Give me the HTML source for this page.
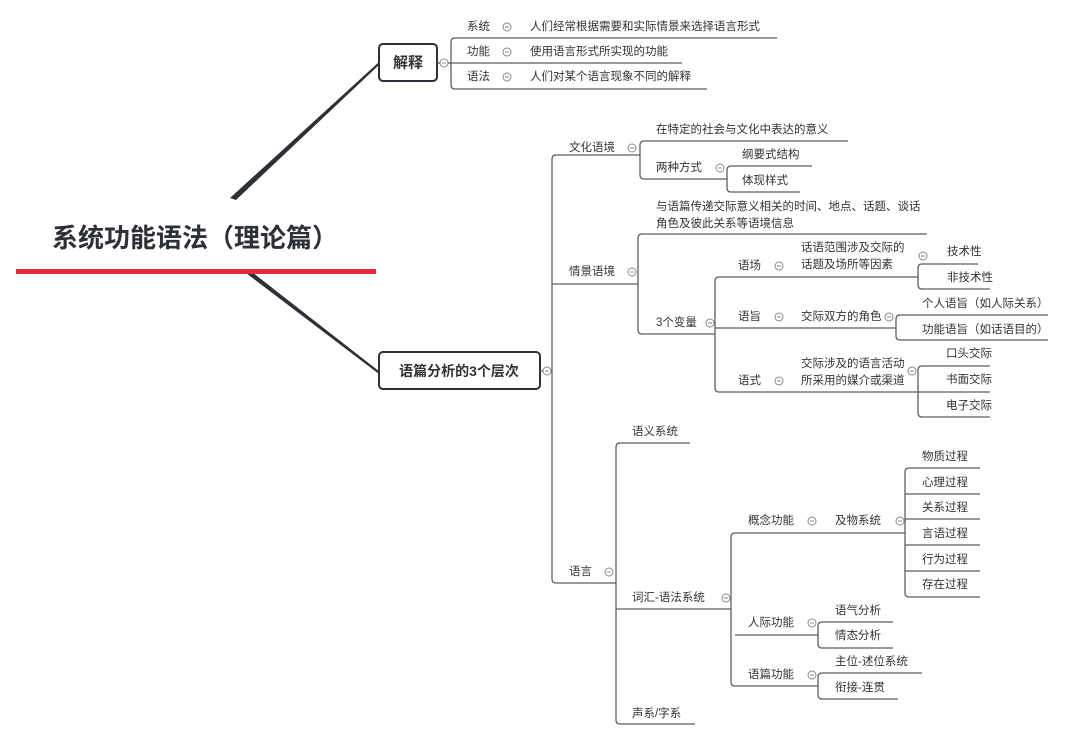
<!DOCTYPE html>
<html><head><meta charset="utf-8"><style>
html,body{margin:0;padding:0;background:#fff;}
svg{display:block;}
text{font-family:"Liberation Sans","Noto Sans CJK SC",sans-serif;font-size:11.5px;fill:#333;dominant-baseline:central;}
.l{stroke:#5a5d66;stroke-width:1.3;fill:none;}
.c circle{fill:#fff;stroke:#888;stroke-width:1;}
.c line{stroke:#888;stroke-width:1;}
</style></head><body>
<svg width="1080" height="739" viewBox="0 0 1080 739" xmlns="http://www.w3.org/2000/svg">
<defs>
<g id="cc" class="c"><circle cx="0" cy="0" r="4"/><line x1="-2" y1="0" x2="2" y2="0"/></g>
</defs>
<polygon points="230,198 236,200 380,64 379,62" fill="#2e3038"/>
<polygon points="246,273 252,272 380,372 379,374" fill="#2e3038"/>
<text x="52" y="238" style="font-size:26px;font-weight:bold;fill:#2e3038">系统功能语法（理论篇）</text>
<rect x="16" y="269" width="360" height="5" fill="#e8283f"/>

<rect x="379" y="44" width="58" height="37" rx="4" fill="#fff" stroke="#2e3038" stroke-width="2"/>
<text x="408" y="63" text-anchor="middle" style="font-size:15px;font-weight:bold">解释</text>
<line class="l" x1="437" y1="63" x2="451" y2="63"/>
<use href="#cc" x="444" y="63"/>
<path class="l" d="M455,38 Q451,38 451,42 V85 Q451,89 455,89"/>
<line class="l" x1="455" y1="38" x2="777" y2="38"/>
<line class="l" x1="451" y1="63" x2="682" y2="63"/>
<line class="l" x1="455" y1="89" x2="707" y2="89"/>
<text x="467" y="27">系统</text><use href="#cc" x="507" y="27"/><text x="530" y="27">人们经常根据需要和实际情景来选择语言形式</text>
<text x="467" y="52">功能</text><use href="#cc" x="507" y="52"/><text x="530" y="52">使用语言形式所实现的功能</text>
<text x="467" y="77">语法</text><use href="#cc" x="507" y="77"/><text x="530" y="77">人们对某个语言现象不同的解释</text>

<rect x="379" y="352" width="161" height="37" rx="4" fill="#fff" stroke="#2e3038" stroke-width="2"/>
<text x="459" y="371" text-anchor="middle" style="font-size:14px;font-weight:bold">语篇分析的3个层次</text>
<line class="l" x1="540" y1="371" x2="552" y2="371"/>
<use href="#cc" x="547" y="371"/>
<path class="l" d="M556,155 Q552,155 552,159 V579 Q552,583 556,583"/>
<line class="l" x1="556" y1="155" x2="640" y2="155"/>
<line class="l" x1="552" y1="284" x2="638" y2="284"/>
<line class="l" x1="556" y1="583" x2="616" y2="583"/>
<text x="569" y="148">文化语境</text><use href="#cc" x="632" y="148"/>
<text x="569" y="272">情景语境</text><use href="#cc" x="632" y="272"/>
<text x="569" y="572">语言</text><use href="#cc" x="609" y="572"/>

<path class="l" d="M644,141 Q640,141 640,145 V175 Q640,179 644,179"/>
<line class="l" x1="644" y1="141" x2="848" y2="141"/>
<line class="l" x1="644" y1="179" x2="727" y2="179"/>
<text x="656" y="130">在特定的社会与文化中表达的意义</text>
<text x="656" y="168">两种方式</text><use href="#cc" x="720" y="168"/>
<path class="l" d="M731,166 Q727,166 727,170 V188 Q727,192 731,192"/>
<line class="l" x1="731" y1="166" x2="812" y2="166"/>
<line class="l" x1="731" y1="192" x2="800" y2="192"/>
<text x="742" y="155">纲要式结构</text>
<text x="742" y="181">体现样式</text>

<path class="l" d="M642,234 Q638,234 638,238 V330 Q638,334 642,334"/>
<line class="l" x1="642" y1="234" x2="927" y2="234"/>
<line class="l" x1="642" y1="334" x2="715" y2="334"/>
<text x="656" y="207">与语篇传递交际意义相关的时间、地点、话题、谈话</text>
<text x="656" y="224">角色及彼此关系等语境信息</text>
<text x="656" y="323">3个变量</text><use href="#cc" x="710" y="323"/>
<path class="l" d="M719,277 Q715,277 715,281 V388 Q715,392 719,392"/>
<line class="l" x1="719" y1="277" x2="918" y2="277"/>
<line class="l" x1="715" y1="328" x2="896" y2="328"/>
<line class="l" x1="719" y1="392" x2="918" y2="392"/>
<text x="738" y="266">语场</text><use href="#cc" x="779" y="266"/>
<text x="801" y="248">话语范围涉及交际的</text><text x="801" y="265">话题及场所等因素</text><use href="#cc" x="923" y="256"/>
<text x="738" y="317">语旨</text><use href="#cc" x="779" y="317"/>
<text x="801" y="317">交际双方的角色</text><use href="#cc" x="889" y="317"/>
<text x="738" y="381">语式</text><use href="#cc" x="779" y="381"/>
<text x="801" y="364">交际涉及的语言活动</text><text x="801" y="381">所采用的媒介或渠道</text><use href="#cc" x="912" y="371"/>

<path class="l" d="M922,264 Q918,264 918,268 V285 Q918,289 922,289"/>
<line class="l" x1="922" y1="264" x2="978" y2="264"/>
<line class="l" x1="922" y1="289" x2="990" y2="289"/>
<text x="947" y="252">技术性</text><text x="947" y="278">非技术性</text>

<path class="l" d="M900,315 Q896,315 896,319 V336 Q896,340 900,340"/>
<line class="l" x1="900" y1="315" x2="1048" y2="315"/>
<line class="l" x1="900" y1="340" x2="1048" y2="340"/>
<text x="922" y="304">个人语旨（如人际关系）</text><text x="922" y="330">功能语旨（如话语目的）</text>

<path class="l" d="M922,366 Q918,366 918,370 V413 Q918,417 922,417"/>
<line class="l" x1="922" y1="366" x2="990" y2="366"/>
<line class="l" x1="918" y1="392" x2="990" y2="392"/>
<line class="l" x1="922" y1="417" x2="990" y2="417"/>
<text x="946" y="354">口头交际</text><text x="946" y="380">书面交际</text><text x="946" y="406">电子交际</text>

<path class="l" d="M620,443 Q616,443 616,447 V720 Q616,724 620,724"/>
<line class="l" x1="620" y1="443" x2="690" y2="443"/>
<line class="l" x1="616" y1="609" x2="731" y2="609"/>
<line class="l" x1="620" y1="724" x2="695" y2="724"/>
<text x="632" y="432">语义系统</text>
<text x="632" y="598">词汇-语法系统</text><use href="#cc" x="726" y="598"/>
<text x="632" y="714">声系/字系</text>

<path class="l" d="M735,533 Q731,533 731,537 V682 Q731,686 735,686"/>
<line class="l" x1="735" y1="533" x2="905" y2="533"/>
<line class="l" x1="735" y1="635" x2="818" y2="635"/>
<line class="l" x1="735" y1="686" x2="818" y2="686"/>
<text x="748" y="521">概念功能</text><use href="#cc" x="812" y="521"/>
<text x="835" y="521">及物系统</text><use href="#cc" x="900" y="521"/>
<text x="748" y="623">人际功能</text><use href="#cc" x="812" y="623"/>
<text x="748" y="675">语篇功能</text><use href="#cc" x="812" y="675"/>

<path class="l" d="M909,468 Q905,468 905,472 V593 Q905,597 909,597"/>
<line class="l" x1="909" y1="468" x2="980" y2="468"/>
<line class="l" x1="905" y1="494" x2="980" y2="494"/>
<line class="l" x1="905" y1="519" x2="980" y2="519"/>
<line class="l" x1="905" y1="545" x2="980" y2="545"/>
<line class="l" x1="905" y1="571" x2="980" y2="571"/>
<line class="l" x1="909" y1="597" x2="980" y2="597"/>
<text x="922" y="457">物质过程</text><text x="922" y="483">心理过程</text><text x="922" y="508">关系过程</text>
<text x="922" y="534">言语过程</text><text x="922" y="560">行为过程</text><text x="922" y="585">存在过程</text>

<path class="l" d="M822,622 Q818,622 818,626 V644 Q818,648 822,648"/>
<line class="l" x1="822" y1="622" x2="893" y2="622"/>
<line class="l" x1="822" y1="648" x2="893" y2="648"/>
<text x="835" y="611">语气分析</text><text x="835" y="636">情态分析</text>

<path class="l" d="M822,673 Q818,673 818,677 V695 Q818,699 822,699"/>
<line class="l" x1="822" y1="673" x2="922" y2="673"/>
<line class="l" x1="822" y1="699" x2="898" y2="699"/>
<text x="835" y="662">主位-述位系统</text><text x="835" y="688">衔接-连贯</text>
</svg>
</body></html>
